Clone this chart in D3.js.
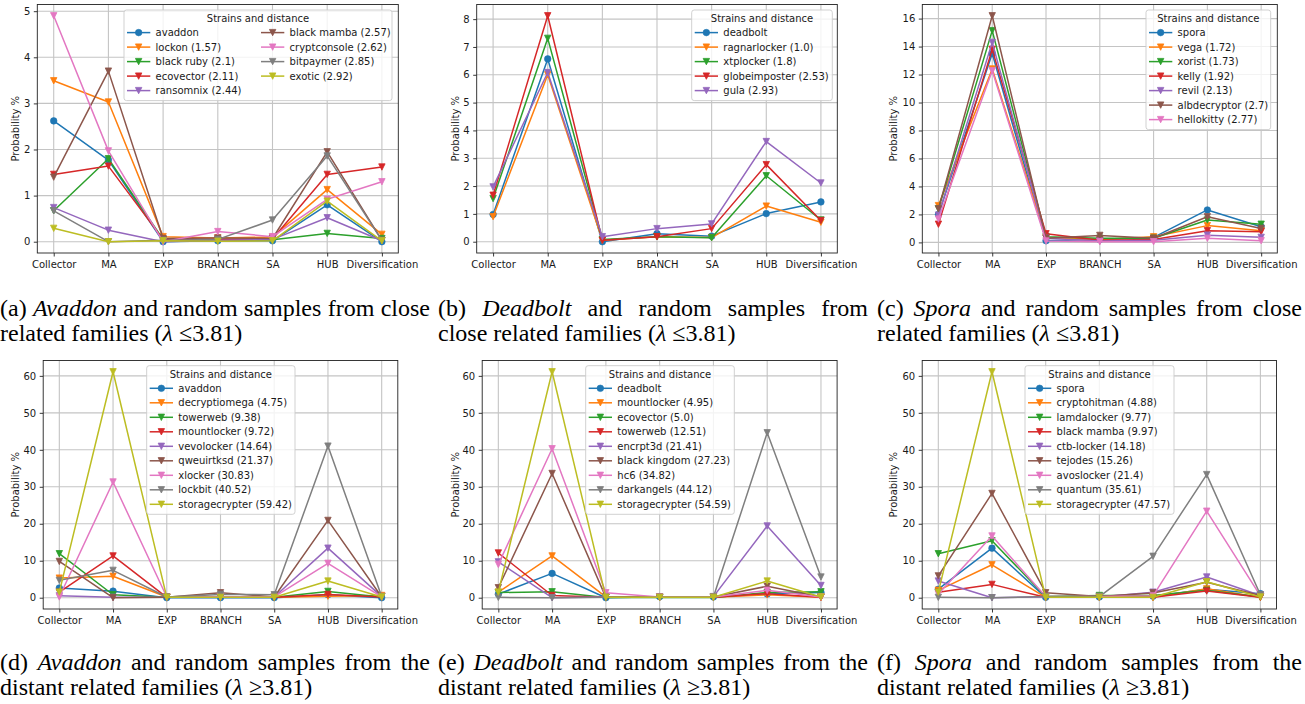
<!DOCTYPE html>
<html><head><meta charset="utf-8">
<script src="https://cdn.jsdelivr.net/npm/d3@7"></script>
<style>body{margin:0;background:#fff} svg{display:block}</style>
</head><body>
<svg id="c" width="1305" height="704"></svg>
<script>
const categories = ["Collector","MA","EXP","BRANCH","SA","HUB","Diversification"];
const colors = ["#1f77b4","#ff7f0e","#2ca02c","#d62728","#9467bd","#8c564b","#e377c2","#7f7f7f","#bcbd22"];

const namesA = ["avaddon","lockon (1.57)","black ruby (2.1)","ecovector (2.11)","ransomnix (2.44)","black mamba (2.57)","cryptconsole (2.62)","bitpaymer (2.85)","exotic (2.92)"];
const valuesA = [
  [2.62,1.77,0.0,0.02,0.02,0.80,0.0],
  [3.49,3.03,0.11,0.08,0.10,1.13,0.16],
  [0.67,1.80,0.05,0.03,0.04,0.18,0.07],
  [1.46,1.64,0.05,0.05,0.06,1.46,1.62],
  [0.74,0.25,0.0,0.03,0.05,0.52,0.02],
  [1.40,3.70,0.07,0.08,0.07,1.95,0.03],
  [4.90,1.97,0.0,0.22,0.11,0.92,1.30],
  [0.67,0.0,0.03,0.05,0.47,1.86,0.03],
  [0.29,0.0,0.02,0.01,0.02,0.88,0.02]
];
const ticksA = [0,1,2,3,4,5];

const namesB = ["deadbolt","ragnarlocker (1.0)","xtplocker (1.8)","globeimposter (2.53)","gula (2.93)"];
const valuesB = [
  [0.98,6.57,0.0,0.29,0.20,1.01,1.43],
  [0.90,6.00,0.05,0.18,0.15,1.28,0.70],
  [1.55,7.31,0.08,0.18,0.14,2.37,0.78],
  [1.67,8.12,0.05,0.18,0.47,2.77,0.76],
  [1.97,6.08,0.18,0.47,0.64,3.60,2.11]
];
const ticksB = [0,1,2,3,4,5,6,7,8];

const namesC = ["spora","vega (1.72)","xorist (1.73)","kelly (1.92)","revil (2.13)","albdecryptor (2.7)","hellokitty (2.77)"];
const valuesC = [
  [2.00,13.5,0.12,0.20,0.36,2.32,1.12],
  [2.63,12.4,0.35,0.20,0.40,1.20,0.84],
  [2.40,15.14,0.40,0.30,0.30,1.60,1.30],
  [1.30,13.8,0.62,0.15,0.20,0.84,0.77],
  [1.95,14.3,0.30,0.10,0.15,0.52,0.36],
  [2.40,16.2,0.30,0.50,0.30,1.83,1.00],
  [1.67,12.27,0.10,0.05,0.05,0.29,0.12]
];
const ticksC = [0,2,4,6,8,10,12,14,16];

const namesD = ["avaddon","decryptiomega (4.75)","towerweb (9.38)","mountlocker (9.72)","vevolocker (14.64)","qweuirtksd (21.37)","xlocker (30.83)","lockbit (40.52)","storagecrypter (59.42)"];
const valuesD = [
  [2.62,1.77,0,0.02,0.02,0.8,0],
  [5.3,5.8,0.2,0.1,0.1,0.4,0.6],
  [11.9,0.8,0.1,0.1,0.1,1.7,0.2],
  [1.5,11.3,0.1,0.1,0.1,0.9,0.2],
  [0.5,0.1,0.1,0.1,0.2,13.4,0.3],
  [9.8,0.0,0.1,1.35,0.2,20.9,0.2],
  [0.2,31.3,0.2,0.2,0.2,9.3,0.2],
  [4.7,7.4,0.2,0.9,0.8,41.0,0.3],
  [1.5,61.1,0.1,0.1,0.1,4.5,0.2]
];
const namesE = ["deadbolt","mountlocker (4.95)","ecovector (5.0)","towerweb (12.51)","encrpt3d (21.41)","black kingdom (27.23)","hc6 (34.82)","darkangels (44.12)","storagecrypter (54.59)"];
const valuesE = [
  [0.98,6.57,0,0.29,0.2,1.01,1.43],
  [1.5,11.3,0.2,0.1,0.1,0.8,0.1],
  [1.4,1.6,0.05,0.05,0.05,1.4,1.6],
  [12.1,0.6,0.1,0.1,0.1,1.1,0.1],
  [9.7,0.0,0.2,0.1,0.3,19.4,3.3],
  [2.7,33.6,0.1,0.2,0.2,3.1,0.2],
  [9.0,40.3,1.35,0.2,0.2,2.0,0.2],
  [0.1,0.0,0.1,0.1,0.2,44.6,5.6],
  [1.5,61.1,0.1,0.1,0.1,4.5,0.2]
];
const namesF = ["spora","cryptohitman (4.88)","lamdalocker (9.77)","black mamba (9.97)","ctb-locker (14.18)","tejodes (15.26)","avoslocker (21.4)","quantum (35.61)","storagecrypter (47.57)"];
const valuesF = [
  [2.3,13.4,0.1,0.2,0.4,2.3,1.1],
  [2.0,8.9,0.1,0.1,0.1,2.4,0.1],
  [11.9,15.4,0.3,0.6,0.6,2.0,0.2],
  [1.5,3.6,0.1,0.1,0.1,1.8,0.1],
  [4.5,0.0,0.2,0.2,1.5,5.6,0.6],
  [5.9,28.2,1.35,0.3,1.3,4.2,0.6],
  [1.0,16.7,0.3,0.3,0.5,23.4,0.5],
  [0.1,0.0,0.3,0.3,11.2,33.3,0.8],
  [1.5,61.1,0.1,0.1,0.1,4.3,0.2]
];
const ticksDEF = [0,10,20,30,40,50,60];

const legendTitle = "Strains and distance";
const yLabel = "Probability %";

const captions = [
  ["(a) *Avaddon* and random samples from close", "related families (*λ* ≤3.81)"],
  ["(b) *Deadbolt* and random samples from", "close related families (*λ* ≤3.81)"],
  ["(c) *Spora* and random samples from close", "related families (*λ* ≤3.81)"],
  ["(d) *Avaddon* and random samples from the", "distant related families (*λ* ≥3.81)"],
  ["(e) *Deadbolt* and random samples from the", "distant related families (*λ* ≥3.81)"],
  ["(f) *Spora* and random samples from the", "distant related families (*λ* ≥3.81)"]
];

// layout (positions only)
const panels = [
  {names:namesA, values:valuesA, ticks:ticksA, x0:37.3, x1:398.3, y0:4.5, y1:253, ylabX:15,
   lg:{x:124, y:10, w:268, cols:2, colOff:134}},
  {names:namesB, values:valuesB, ticks:ticksB, x0:476.7, x1:837.3, y0:4.5, y1:253, ylabX:455,
   lg:{x:691.7, y:10, w:140.6, cols:1}},
  {names:namesC, values:valuesC, ticks:ticksC, x0:922.3, x1:1277.3, y0:4.5, y1:253, ylabX:893,
   lg:{x:1146, y:10, w:124.7, cols:1}},
  {names:namesD, values:valuesD, ticks:ticksDEF, x0:43.2, x1:397.8, y0:360.5, y1:609, ylabX:15,
   lg:{x:146.7, y:365.7, w:148.3, cols:1}},
  {names:namesE, values:valuesE, ticks:ticksDEF, x0:482.2, x1:837.1, y0:360.5, y1:609, ylabX:455,
   lg:{x:585.7, y:365.7, w:148.6, cols:1}},
  {names:namesF, values:valuesF, ticks:ticksDEF, x0:922.2, x1:1276.5, y0:360.5, y1:609, ylabX:893,
   lg:{x:1025, y:365.7, w:149, cols:1}}
];
const captionLayout = [
  {x0:0, x1:430, y:316}, {x0:438, x1:868, y:316}, {x0:877, x1:1302, y:316},
  {x0:0, x1:430, y:670}, {x0:438, x1:868, y:670}, {x0:877, x1:1302, y:670}
];

const svg = d3.select("#c");
const FONT = "'DejaVu Sans', sans-serif";
const TXT = "#1a1a1a";

function marker(sel, i, cx, cy) {
  const c = colors[i];
  if (i === 0) {
    sel.append("circle").attr("cx", cx).attr("cy", cy).attr("r", 3.3).attr("fill", c).attr("stroke", c).attr("stroke-width", 0.6);
  } else {
    const s = 3.2;
    sel.append("path").attr("d", `M${cx},${cy + s} L${cx - s},${cy - s} L${cx + s},${cy - s} Z`)
      .attr("fill", c).attr("stroke", c).attr("stroke-width", 0.8).attr("stroke-linejoin", "miter");
  }
}

panels.forEach(p => {
  const g = svg.append("g");
  const x = d3.scalePoint().domain(categories).range([p.x0, p.x1]).padding(0.3);
  const all = p.values.flat();
  const lo = d3.min(all), hi = d3.max(all), r = hi - lo;
  const y = d3.scaleLinear().domain([lo - 0.05 * r, hi + 0.05 * r]).range([p.y1, p.y0]);

  // grid
  g.append("g").selectAll("line").data(p.ticks).join("line")
    .attr("x1", p.x0).attr("x2", p.x1).attr("y1", d => y(d)).attr("y2", d => y(d))
    .attr("stroke", "#c4c4c4").attr("stroke-width", 1.1);
  g.append("g").selectAll("line").data(categories).join("line")
    .attr("x1", d => x(d)).attr("x2", d => x(d)).attr("y1", p.y0).attr("y2", p.y1)
    .attr("stroke", "#c4c4c4").attr("stroke-width", 1.1);

  // axes
  const ax = g.append("g").attr("transform", `translate(0,${p.y1})`)
    .call(d3.axisBottom(x).tickSize(3.5).tickPadding(4));
  const ay = g.append("g").attr("transform", `translate(${p.x0},0)`)
    .call(d3.axisLeft(y).tickValues(p.ticks).tickSize(3.5).tickPadding(3.5).tickFormat(d3.format("d")));
  [ax, ay].forEach(a => {
    a.select(".domain").remove();
    a.selectAll("line").attr("stroke", "#222").attr("stroke-width", 0.9);
    a.selectAll("text").attr("font-family", FONT).attr("font-size", 10).attr("fill", TXT);
  });

  // series
  p.values.forEach((vals, i) => {
    const line = d3.line().x((d, k) => x(categories[k])).y(d => y(d));
    g.append("path").datum(vals).attr("d", line).attr("fill", "none")
      .attr("stroke", colors[i]).attr("stroke-width", 1.5).attr("stroke-linejoin", "round");
    const mg = g.append("g");
    vals.forEach((v, k) => marker(mg, i, x(categories[k]), y(v)));
  });

  // frame
  g.append("rect").attr("x", p.x0).attr("y", p.y0).attr("width", p.x1 - p.x0).attr("height", p.y1 - p.y0)
    .attr("fill", "none").attr("stroke", "#222").attr("stroke-width", 0.9);

  // y label
  g.append("text").attr("transform", `translate(${p.ylabX},${(p.y0 + p.y1) / 2}) rotate(-90)`)
    .attr("text-anchor", "middle").attr("dominant-baseline", "central")
    .attr("font-family", FONT).attr("font-size", 10).attr("fill", TXT).text(yLabel);

  // legend
  const L = p.lg, n = p.names.length;
  const perCol = Math.ceil(n / L.cols);
  const rows = perCol;
  const lh = 22.6 + (rows - 1) * 14.5 + 10;
  const lgG = g.append("g");
  lgG.append("rect").attr("x", L.x).attr("y", L.y).attr("width", L.w).attr("height", lh)
    .attr("rx", 2.5).attr("fill", "#fff").attr("fill-opacity", 0.8).attr("stroke", "#cccccc").attr("stroke-width", 0.9);
  lgG.append("text").attr("x", L.x + L.w / 2).attr("y", L.y + 8.3).attr("text-anchor", "middle")
    .attr("dominant-baseline", "central").attr("font-family", FONT).attr("font-size", 10).attr("fill", TXT).text(legendTitle);
  p.names.forEach((nm, i) => {
    const col = Math.floor(i / perCol), row = i % perCol;
    const cx0 = L.x + 3 + col * (L.colOff || 0);
    const cy = L.y + 22.6 + row * 14.5;
    lgG.append("line").attr("x1", cx0).attr("x2", cx0 + 23.3).attr("y1", cy).attr("y2", cy)
      .attr("stroke", colors[i]).attr("stroke-width", 1.5);
    marker(lgG, i, cx0 + 11.65, cy);
    lgG.append("text").attr("x", cx0 + 28.6).attr("y", cy).attr("dominant-baseline", "central")
      .attr("font-family", FONT).attr("font-size", 10).attr("fill", TXT).text(nm);
  });
});

// captions
function parseWords(str) {
  return str.split(" ").map(w => w.split("*").map((t, k) => [t, k % 2 === 1]).filter(s => s[0].length));
}
function captionLine(x0, x1, yb, str, justify) {
  const t = svg.append("g");
  const words = parseWords(str);
  const els = words.map(w => {
    const te = t.append("text").attr("y", yb)
      .attr("font-family", "'Liberation Serif','Times New Roman',serif").attr("font-size", 24).attr("fill", "#000");
    w.forEach(seg => te.append("tspan").attr("font-style", seg[1] ? "italic" : "normal").text(seg[0]));
    return te;
  });
  const widths = els.map(e => e.node().getComputedTextLength());
  const sum = d3.sum(widths);
  let gap = justify ? Math.max(3, (x1 - x0 - sum) / (words.length - 1)) : 6;
  let cx = x0;
  els.forEach((e, i) => { e.attr("x", cx); cx += widths[i] + gap; });
}
captions.forEach((c, i) => {
  const L = captionLayout[i];
  captionLine(L.x0, L.x1, L.y, c[0], true);
  captionLine(L.x0, L.x1, L.y + 25, c[1], false);
});
</script>
</body></html>
